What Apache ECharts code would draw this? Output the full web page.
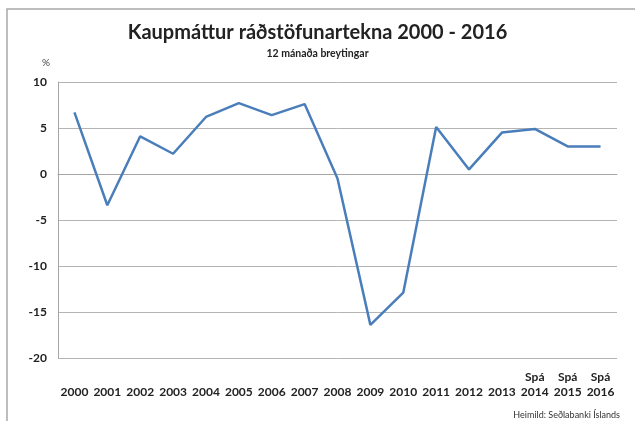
<!DOCTYPE html>
<html>
<head>
<meta charset="utf-8">
<script src="https://cdn.jsdelivr.net/npm/echarts@6/dist/echarts.min.js"></script>
<style>
  html, body { margin: 0; padding: 0; background: #fff; }
  #chart { width: 635px; height: 421px; }
</style>
</head>
<body>
<div id="chart"></div>
<script>
  // ár og merking spár
  var years = ['2000', '2001', '2002', '2003', '2004', '2005', '2006', '2007', '2008',
               '2009', '2010', '2011', '2012', '2013', '2014', '2015', '2016'];
  var forecast = ['', '', '', '', '', '', '', '', '', '', '', '', '', '', 'Spá', 'Spá', 'Spá'];
  // kaupmáttur, % breyting
  var values = [6.7, -3.4, 4.1, 2.2, 6.2, 7.7, 6.4, 7.6, -0.5,
                -16.4, -12.9, 5.1, 0.5, 4.5, 4.9, 3.0, 3.0];
  var yTicks = { min: -20, max: 10, step: 5 };

  var font = 'Lato, "Open Sans", sans-serif';
  var chart = echarts.init(document.getElementById('chart'));
  chart.setOption({
    animation: false,
    textStyle: { fontFamily: font },
    title: [
      { text: 'Kaupmáttur ráðstöfunartekna 2000 - 2016', left: 'center', top: 18,
        textStyle: { fontSize: 20, fontWeight: 'bold', color: '#222', fontFamily: font } },
      { text: '12 mánaða breytingar', left: 'center', top: 43,
        textStyle: { fontSize: 10.5, fontWeight: 'bold', color: '#222', fontFamily: font } },
      { text: '%', left: 37, top: 53,
        textStyle: { fontSize: 10, fontWeight: 'normal', color: '#444', fontFamily: font } },
      { text: 'Heimild: Seðlabanki Íslands', right: 10, top: 406,
        textStyle: { fontSize: 9, fontWeight: 'normal', color: '#333', fontFamily: font } }
    ],
    graphic: [
      { type: 'rect', shape: { x: 7, y: 9, width: 700, height: 500 },
        style: { fill: 'none', stroke: '#a8a8a8', lineWidth: 1.5 }, silent: true }
    ],
    grid: { left: 58, right: 18, top: 82, bottom: 63 },
    xAxis: {
      type: 'category',
      data: years,
      boundaryGap: true,
      axisLine: { lineStyle: { color: '#a6a6a6', width: 1 } },
      axisTick: { show: false },
      axisLabel: {
        interval: 0,
        margin: 12,
        lineHeight: 15,
        fontSize: 12,
        fontWeight: 'bold',
        color: '#222',
        formatter: function (v, i) { return forecast[i] + '\n' + v; }
      }
    },
    yAxis: {
      type: 'value',
      min: yTicks.min,
      max: yTicks.max,
      interval: yTicks.step,
      axisLine: { show: true, lineStyle: { color: '#a6a6a6', width: 1 } },
      axisTick: { show: false },
      splitLine: { lineStyle: { color: '#b4b4b4', width: 1 } },
      axisLabel: { margin: 11, fontSize: 12, fontWeight: 'bold', color: '#222' }
    },
    series: [{
      type: 'line',
      data: values,
      showSymbol: false,
      lineStyle: { color: '#4a7ebb', width: 2.5 },
      itemStyle: { color: '#4a7ebb' }
    }]
  });
</script>
</body>
</html>
